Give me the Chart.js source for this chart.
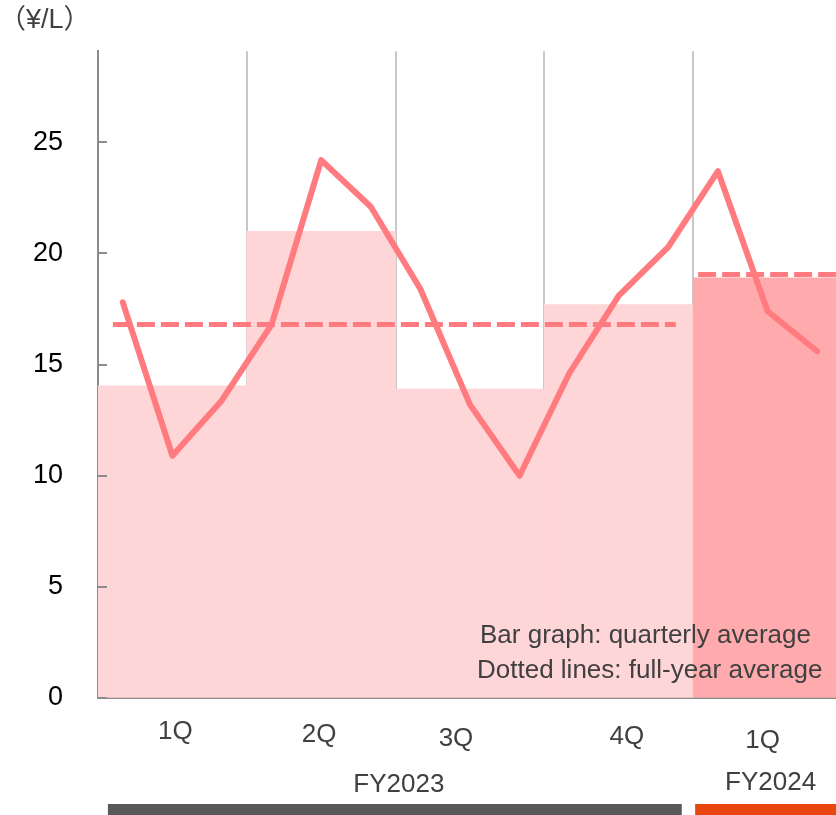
<!DOCTYPE html>
<html>
<head>
<meta charset="utf-8">
<script src="https://cdn.jsdelivr.net/npm/chart.js@4.4.1/dist/chart.umd.min.js"></script>
<style>
  html, body { margin: 0; padding: 0; background: #fff; }
  canvas { display: block; }
</style>
</head>
<body>
<canvas id="priceChart" width="836" height="815"></canvas>
<script>
// monthly price (¥/L), FY2023 1Q through FY2024 1Q
const monthValues = [17.8, 10.9, 13.4, 16.8, 24.2, 22.1, 18.4, 13.2, 10.0, 14.6, 18.1, 20.3, 23.7, 17.4, 15.6];
const quarterLabels = ['1Q', '2Q', '3Q', '4Q', '1Q'];
const quarterAverages = [14.05, 21.0, 13.9, 17.7, 18.9];
const yearLabels = ['FY2023', 'FY2024'];
const yearAverages = [16.8, 19.05];
// start / end of each dotted line, in months from the first month
const yearSpans = [[0.3, 11.65], [12.1, 15]];
const yTicks = [0, 5, 10, 15, 20, 25];
const quarterTicks = [0, 3, 6, 9, 12];

const LINE = '#ff7b80';
const FONT = '"Liberation Sans", Arial, "Noto Sans CJK JP", sans-serif';

// small hand nudges for the category texts under the axis
const quarterNudge = [[3, -5], [-2, -2], [-14, 2], [8, 0], [-5, 4]];
const yearNudge = [[4, 48], [5, 46]];

const decorations = {
    id: 'decorations',
    afterDraw(chart) {
        const { ctx, chartArea, scales: { x, y } } = chart;
        ctx.save();

        // tick marks pointing into the plot
        ctx.strokeStyle = '#8c8c8c';
        ctx.lineWidth = 2;
        yTicks.forEach(v => {
            const py = Math.round(y.getPixelForValue(v));
            ctx.beginPath();
            ctx.moveTo(chartArea.left, py);
            ctx.lineTo(chartArea.left + 9, py);
            ctx.stroke();
        });

        ctx.fillStyle = '#404040';
        ctx.textBaseline = 'middle';

        // unit
        ctx.font = '27px ' + FONT;
        ctx.textAlign = 'left';
        ctx.fillText('（¥/L）', -1, 21);

        // quarters
        ctx.font = '26px ' + FONT;
        ctx.textAlign = 'center';
        quarterLabels.forEach((label, i) => {
            const [dx, dy] = quarterNudge[i];
            ctx.fillText(label, x.getPixelForValue(i * 3 + 1.5) + dx, 737 + dy);
        });

        // fiscal years and their bands
        const bands = [[0.2, 11.77, '#595959'], [12.04, 15, '#e8460c']];
        yearLabels.forEach((label, i) => {
            const [from, to, color] = bands[i];
            const x0 = x.getPixelForValue(from);
            const x1 = Math.min(x.getPixelForValue(to), chart.width);
            ctx.fillStyle = '#404040';
            ctx.fillText(label, (x0 + x1) / 2 + yearNudge[i][0], 737 + yearNudge[i][1]);
            ctx.fillStyle = color;
            ctx.fillRect(x0, 804, x1 - x0, 12);
        });

        // notes
        ctx.fillStyle = '#404040';
        ctx.textAlign = 'left';
        ctx.fillText('Bar graph: quarterly average', 480, 636);
        ctx.fillText('Dotted lines: full-year average', 477, 671);

        ctx.restore();
    }
};

const ctx = document.getElementById('priceChart').getContext('2d');

new Chart(ctx, {
    type: 'line',
    data: {
        datasets: [
            {
                label: 'monthly',
                data: monthValues.map((v, i) => ({ x: i + 0.5, y: v })),
                borderColor: LINE,
                borderWidth: 6,
                borderCapStyle: 'round',
                borderJoinStyle: 'round',
                pointRadius: 0,
                tension: 0,
                order: 0,
            },
            ...yearAverages.map((v, i) => ({
                label: yearLabels[i],
                data: yearSpans[i].map(m => ({ x: m, y: v })),
                borderColor: LINE,
                borderWidth: 5,
                borderDash: [18, 6],
                pointRadius: 0,
                order: 1,
            })),
            {
                type: 'bar',
                label: 'quarterly',
                data: quarterAverages.map((v, i) => ({ x: i * 3 + 1.5, y: v })),
                backgroundColor: quarterAverages.map((v, i) => (i < 4 ? '#ffd6d7' : '#ffabae')),
                borderWidth: 0,
                barPercentage: 1,
                categoryPercentage: 1,
                order: 2,
            },
        ],
    },
    options: {
        responsive: false,
        animation: false,
        layout: { padding: { top: 50, right: 0, left: 0, bottom: 0 } },
        plugins: {
            legend: { display: false },
            tooltip: { enabled: false },
        },
        scales: {
            x: {
                type: 'linear',
                min: 0,
                max: 14.88,
                offset: false,
                afterBuildTicks: s => { s.ticks = quarterTicks.map(v => ({ value: v })); },
                afterFit: s => { s.height = 117; },
                ticks: { display: false },
                grid: { color: '#c8c8c8', lineWidth: 2, drawTicks: false, offset: false },
                border: { color: '#8c8c8c', width: 2 },
            },
            y: {
                min: 0,
                max: 29.1,
                afterBuildTicks: s => { s.ticks = yTicks.map(v => ({ value: v })); },
                afterFit: s => { s.width = 98; },
                ticks: { color: '#000', padding: 35, font: { size: 27, family: FONT } },
                grid: { drawOnChartArea: false, drawTicks: false },
                border: { color: '#8c8c8c', width: 2 },
            },
        },
    },
    plugins: [decorations],
});
</script>
</body>
</html>
